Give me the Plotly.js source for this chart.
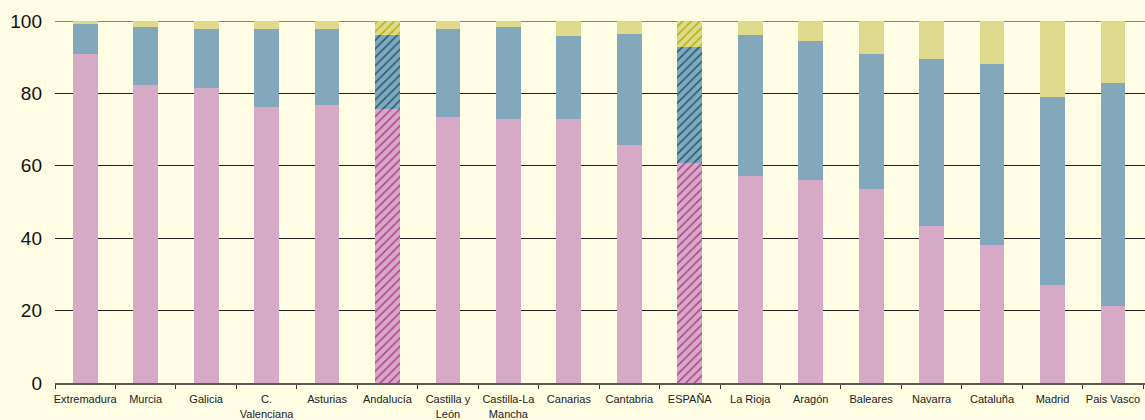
<!DOCTYPE html>
<html>
<head>
<meta charset="utf-8">
<script src="https://cdn.plot.ly/plotly-3.0.1.min.js"></script>
<style>html,body{margin:0;padding:0;background:#FFFDE4;}</style>
</head>
<body>
<div id="chart" style="width:1145px;height:420px;"></div>
<script>
const categories = ["Extremadura","Murcia","Galicia","C.<br>Valenciana","Asturias","Andalucía","Castilla y<br>León","Castilla-La<br>Mancha","Canarias","Cantabria","ESPAÑA","La Rioja","Aragón","Baleares","Navarra","Cataluña","Madrid","Pais Vasco"];
const pinkValues = [90.9, 82.3, 81.5, 76.2, 76.8, 75.7, 73.5, 72.9, 72.9, 65.7, 60.8, 57.3, 56.0, 53.5, 43.3, 38.1, 27.1, 21.3];
const blueValues = [8.3, 16.0, 16.3, 21.6, 21.0, 20.4, 24.3, 25.4, 23.0, 30.7, 32.0, 38.8, 38.5, 37.4, 46.2, 50.0, 51.9, 61.7];
const yellowValues = [0.8, 1.7, 2.2, 2.2, 2.2, 3.9, 2.2, 1.7, 4.1, 3.6, 7.2, 3.9, 5.5, 9.1, 10.5, 11.9, 21.0, 17.0];
const hatched = ["Andalucía", "ESPAÑA"];
const yTicks = [0, 20, 40, 60, 80, 100];

const shapes = categories.map(c => hatched.includes(c) ? "/" : "");

function mk(vals, color, fg) {
  return {
    type: "bar", x: categories, y: vals, width: 0.41,
    marker: {color: color, line: {width: 0},
      pattern: {shape: shapes, fillmode: "overlay", fgcolor: fg, fgopacity: 1, size: 6, solidity: 0.25}},
    hoverinfo: "skip", showlegend: false
  };
}

const data = [
  mk(pinkValues, "#D6A9C6", "#B0418C"),
  mk(blueValues, "#83A8BB", "#1C5C79"),
  mk(yellowValues, "#DEDB8F", "#B6B200")
];

const layout = {
  width: 1145, height: 420,
  barmode: "stack",
  paper_bgcolor: "#FFFDE4", plot_bgcolor: "#FFFDE4",
  margin: {l: 55, r: 0, t: 21, b: 37},
  font: {family: "Liberation Sans, Arial, sans-serif", color: "#111"},
  xaxis: {
    type: "category", range: [-0.5, 17.53],
    showline: true, linecolor: "#5a5a50", linewidth: 2,
    ticks: "outside", tickson: "boundaries", ticklen: 4, tickcolor: "#333", tickwidth: 1,
    tickangle: 0, automargin: false, ticklabelstandoff: 5,
    tickfont: {size: 11, color: "#222"}, showgrid: false, fixedrange: true
  },
  yaxis: {
    range: [0, 100], tickvals: yTicks, ticktext: yTicks.map(String),
    showgrid: true, gridcolor: "#222", gridwidth: 1,
    zeroline: false, showline: false, ticks: "",
    tickfont: {size: 19, color: "#111"}, ticklabelstandoff: 12, fixedrange: true
  },
  shapes: [{type: "line", xref: "paper", yref: "y", x0: 0, x1: 1, y0: 100, y1: 100,
            line: {color: "#858575", width: 2}, layer: "below"}]
};

Plotly.newPlot("chart", data, layout, {displayModeBar: false, staticPlot: true});
</script>
</body>
</html>
